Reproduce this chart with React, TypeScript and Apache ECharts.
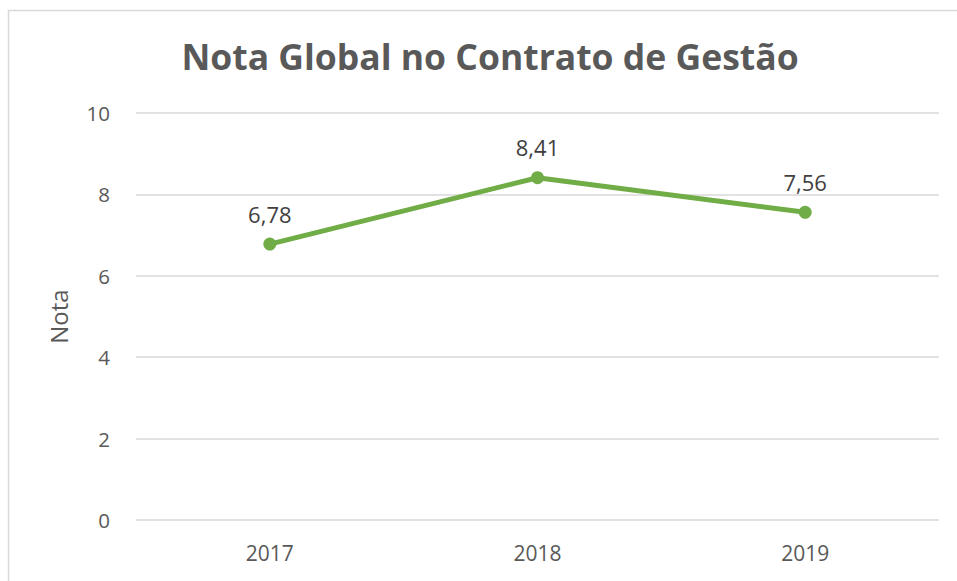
import React, { useEffect, useRef } from "react";
import * as echarts from "echarts";

const categories = ["2017", "2018", "2019"];
const notas = [6.78, 8.41, 7.56];
const yTicks = [0, 2, 4, 6, 8, 10];

export default function App() {
  const ref = useRef<HTMLDivElement>(null);
  useEffect(() => {
    if (!ref.current) return;
    const chart = echarts.init(ref.current, null, { renderer: "svg" });
    const font = "'Open Sans', 'Noto Sans', sans-serif";
    chart.setOption({
      animation: false,
      backgroundColor: "#ffffff",
      textStyle: { fontFamily: font },
      title: {
        text: "Nota Global no Contrato de Gestão",
        left: 485,
        top: 33,
        textAlign: "center",
        textStyle: { fontSize: 35.5, fontWeight: "bold", color: "#595959", fontFamily: font },
      },
      graphic: [
        {
          type: "rect",
          shape: { x: 8.5, y: 10.5, width: 1000, height: 700 },
          style: { fill: "none", stroke: "#d9d9d9", lineWidth: 1.5 },
          silent: true,
        },
      ],
      grid: { left: 136, right: 18, top: 113, bottom: 61, containLabel: false },
      xAxis: {
        type: "category",
        data: categories,
        boundaryGap: true,
        axisLine: { show: false },
        axisTick: { show: false },
        axisLabel: { color: "#595959", fontSize: 21, margin: 22, fontFamily: font },
        splitLine: { show: false },
      },
      yAxis: {
        type: "value",
        min: yTicks[0],
        max: yTicks[yTicks.length - 1],
        interval: 2,
        name: "Nota",
        nameLocation: "middle",
        nameGap: 66,
        nameTextStyle: { color: "#595959", fontSize: 24, fontFamily: font },
        axisLine: { show: false },
        axisTick: { show: false },
        axisLabel: { color: "#595959", fontSize: 20.5, margin: 26, fontFamily: font },
        splitLine: { lineStyle: { color: "#d9d9d9", width: 1.5 } },
      },
      series: [
        {
          type: "line",
          data: notas,
          symbol: "circle",
          symbolSize: 13,
          lineStyle: { color: "#70AD47", width: 5 },
          itemStyle: { color: "#70AD47" },
          label: {
            show: true,
            position: "top",
            distance: 13,
            color: "#404040",
            fontSize: 22,
            fontFamily: font,
            formatter: (p: any) => p.value.toFixed(2).replace(".", ","),
          },
        },
      ],
    });
    return () => chart.dispose();
  }, []);
  return (
    <div
      ref={ref}
      style={{ position: "fixed", left: 0, top: 0, width: 957, height: 581 }}
    />
  );
}
